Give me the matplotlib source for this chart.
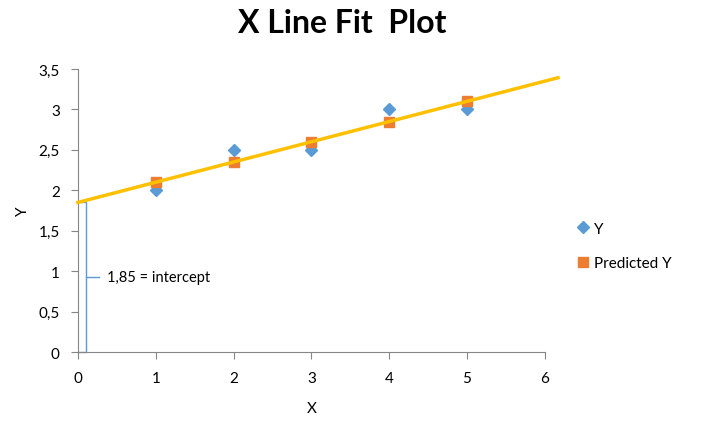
import numpy as np
import matplotlib.pyplot as plt
from matplotlib.ticker import FuncFormatter

plt.rcParams['font.family'] = ['Lato', 'DejaVu Sans']

# data
x_vals = [1, 2, 3, 4, 5]
y_vals = [2.0, 2.5, 2.5, 3.0, 3.0]
y_pred = [2.1, 2.35, 2.6, 2.85, 3.1]
intercept = 1.85
slope = 0.25
line_x = [0, 6.17]

fig = plt.figure(figsize=(7.02, 4.35), dpi=100)
ax = fig.add_axes([0.111, 0.1885, 0.665, 0.6505])

ax.plot(x_vals, y_vals, 'D', color='#5B9BD5', markersize=6, label='Y', zorder=3)
ax.plot(x_vals, y_pred, 's', color='#ED7D31', markersize=7, label='Predicted Y', zorder=3)
lx = np.array(line_x)
ax.plot(lx, intercept + slope * lx, color='#FFC000', lw=2.5, zorder=4, clip_on=False)

# brace showing the intercept
bc = '#5B9BD5'
bx = 0.103
ax.plot([0.0, bx, bx, 0.0], [intercept, intercept, 0, 0], color=bc, lw=1, clip_on=False, zorder=2)
ax.plot([bx, 0.27], [intercept / 2, intercept / 2], color=bc, lw=1, zorder=2)
ax.text(0.38, intercept / 2, '1,85 = intercept', fontsize=10.5, va='center', ha='left')

ax.set_xlim(0, 6)
ax.set_ylim(0, 3.5)
ax.set_xticks(range(0, 7))
ax.set_yticks(np.arange(0, 3.51, 0.5))
fmt = FuncFormatter(lambda v, p: ('%g' % v).replace('.', ','))
ax.yaxis.set_major_formatter(fmt)
ax.xaxis.set_major_formatter(fmt)

for s in ['top', 'right']:
    ax.spines[s].set_visible(False)
for s in ['left', 'bottom']:
    ax.spines[s].set_color('#868686')
ax.tick_params(axis='both', colors='#868686', labelcolor='black', labelsize=11, length=5, direction='out')
ax.tick_params(axis='x', pad=9)
ax.tick_params(axis='y', pad=8)

ax.set_xlabel('X', fontsize=11, labelpad=11)
ax.set_ylabel('Y', fontsize=11, labelpad=6)
fig.suptitle('X Line Fit  Plot', fontsize=23, fontweight='bold', x=0.487, y=0.98)

leg = ax.legend(loc='center left', bbox_to_anchor=(1.04, 0.375), frameon=False, fontsize=11,
                handlelength=0.8, handletextpad=0.3, labelspacing=1.35)

fig.savefig('out.png', dpi=100)
